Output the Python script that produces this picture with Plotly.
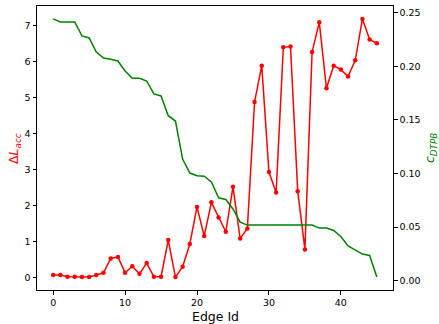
import plotly.graph_objects as go

edge_id = list(range(46))
delta_l_acc = [0.07, 0.07, 0.02, 0.02, 0.01, 0.01, 0.07, 0.13, 0.53, 0.57,
               0.13, 0.31, 0.10, 0.40, 0.02, 0.02, 1.04, 0.01, 0.30, 0.93,
               1.96, 1.15, 2.09, 1.67, 1.27, 2.52, 1.08, 1.36, 4.88, 5.89,
               2.93, 2.36, 6.40, 6.42, 2.40, 0.78, 6.27, 7.10, 5.26, 5.89,
               5.78, 5.59, 6.04, 7.19, 6.62, 6.51]
c_dtpb = [0.2444, 0.2416, 0.2416, 0.2416, 0.2285, 0.2266, 0.2135, 0.2079, 0.2068, 0.2051,
          0.1958, 0.1889, 0.1889, 0.1864, 0.1743, 0.1724, 0.1540, 0.1490, 0.1135, 0.1004,
          0.0979, 0.0974, 0.0920, 0.0773, 0.0757, 0.0668, 0.0546, 0.0518, 0.0518, 0.0518,
          0.0518, 0.0518, 0.0518, 0.0518, 0.0518, 0.0518, 0.0518, 0.0490, 0.0490, 0.0467,
          0.0411, 0.0324, 0.0287, 0.0247, 0.0234, 0.0032]

x_ticks = [0, 10, 20, 30, 40]
y1_ticks = [0, 1, 2, 3, 4, 5, 6, 7]
y2_ticks = [0.0, 0.05, 0.10, 0.15, 0.20, 0.25]

W, H = 439, 324
L, R, T, B = 37, 46, 6, 34

def pad(vals, frac=0.05):
    lo, hi = min(vals), max(vals)
    s = hi - lo
    return [lo - frac * s, hi + frac * s]

font = "DejaVu Sans"
fig = go.Figure()
fig.add_trace(go.Scatter(x=edge_id, y=delta_l_acc, mode="lines+markers",
                         line=dict(color="#ff0000", width=1.5),
                         marker=dict(color="#ff0000", size=4.5), yaxis="y"))
fig.add_trace(go.Scatter(x=edge_id, y=c_dtpb, mode="lines",
                         line=dict(color="green", width=1.5), yaxis="y2"))

axis_common = dict(showgrid=False, zeroline=False, showline=True, linecolor="black",
                   linewidth=1, ticks="outside", ticklen=3.5, tickwidth=1, tickcolor="black",
                   automargin=False,
                   tickfont=dict(family=font, size=9.5, color="black"))

fig.update_layout(
    width=W, height=H,
    margin=dict(l=L, r=R, t=T, b=B),
    paper_bgcolor="white", plot_bgcolor="white",
    showlegend=False,
    xaxis=dict(range=pad(edge_id), tickvals=x_ticks, mirror=True, **axis_common),
    yaxis=dict(range=pad(delta_l_acc), tickvals=y1_ticks, **axis_common),
    yaxis2=dict(range=pad(c_dtpb), tickvals=y2_ticks, tickformat=".2f", overlaying="y", side="right",
                **axis_common),
    annotations=[
        dict(text="Edge Id", xref="paper", yref="paper", x=0.5, y=-(316 - (H - B)) / (H - T - B),
             yanchor="middle", xanchor="center", showarrow=False,
             font=dict(family=font, size=12.5, color="black")),
        dict(text="Δ<i>L</i><sub><i>acc</i></sub>", xref="paper", yref="paper",
             x=(14 - L) / (W - L - R), y=0.5, xanchor="center", yanchor="middle",
             textangle=-90, showarrow=False, font=dict(family=font, size=12.5, color="#ff0000")),
        dict(text="<i>c</i><sub><i>DTPB</i></sub>", xref="paper", yref="paper",
             x=(430 - L) / (W - L - R), y=0.5, xanchor="center", yanchor="middle",
             textangle=-90, showarrow=False, font=dict(family=font, size=12.5, color="green")),
    ],
)
fig.write_html("out.html", config={"displayModeBar": False},
               post_script="document.body.style.margin='0';document.body.style.overflow='hidden';")
